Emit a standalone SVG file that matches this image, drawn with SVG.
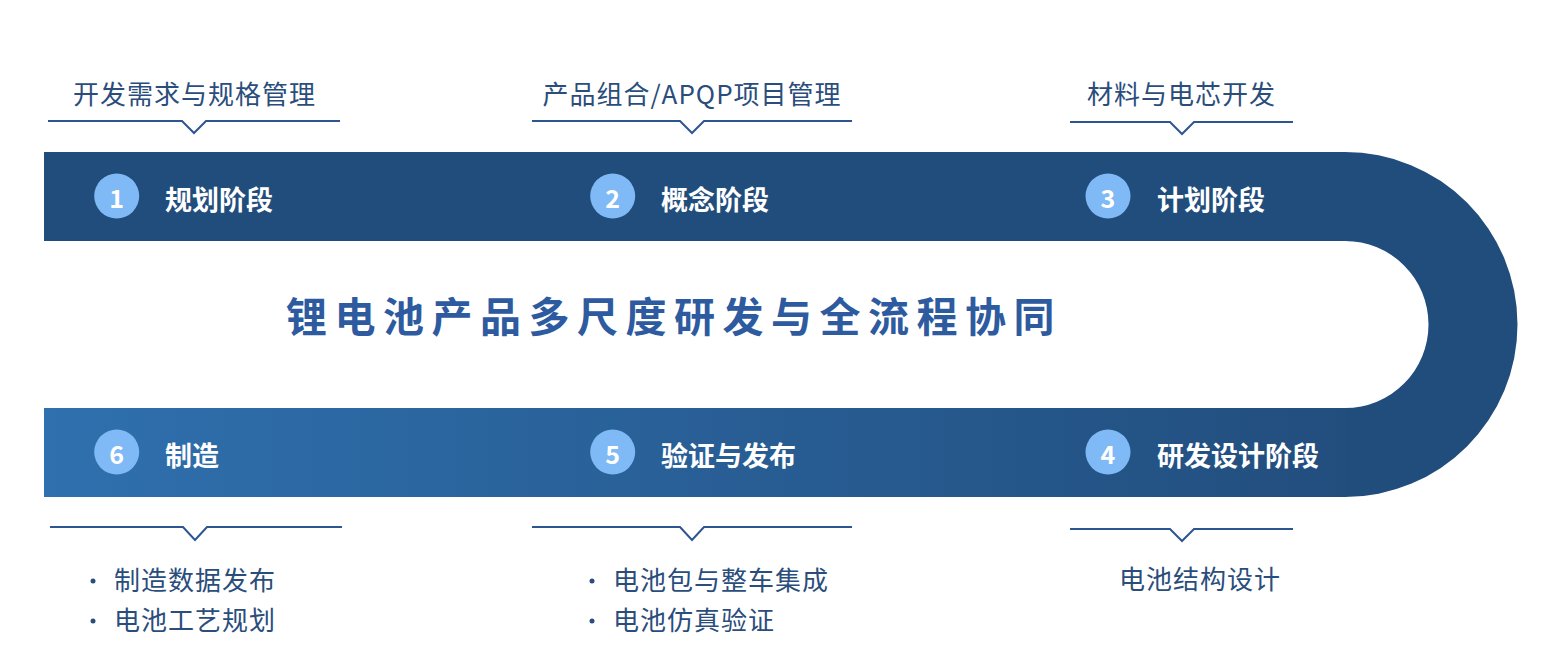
<svg xmlns="http://www.w3.org/2000/svg" width="1560" height="656" viewBox="0 0 1560 656">
<style>
.lbl{font-family:"Noto Sans CJK SC","Noto Sans",sans-serif;font-size:26px;letter-spacing:1px;fill:#2a4d7c}
.stage{font-family:"Noto Sans CJK SC","Noto Sans",sans-serif;font-size:27px;font-weight:bold;fill:#ffffff}
.num{font-family:"Noto Sans CJK SC","Noto Sans",sans-serif;font-size:25px;font-weight:bold;fill:#ffffff}
.dot{fill:#80baf6}
.rule{fill:none;stroke:#2d5590;stroke-width:2}
.bul{fill:#2a4d7c}
.title{font-family:"Noto Sans CJK SC","Noto Sans",sans-serif;font-size:41px;font-weight:bold;letter-spacing:7.5px;fill:#2e5b9f}
</style>
<defs>
<linearGradient id="gBot" x1="44" y1="0" x2="1345" y2="0" gradientUnits="userSpaceOnUse">
<stop offset="0" stop-color="#2f70ae"/>
<stop offset="1" stop-color="#224e7e"/>
</linearGradient>
</defs>
<rect width="1560" height="656" fill="#ffffff"/>
<g id="track">
<path d="M44,152 H1345 A172.5,172.5 0 0 1 1345,497 H44 V408 H1345 A83.5,83.5 0 0 0 1345,241 H44 Z" fill="#214d7c"/>
<rect x="44" y="408" width="1302" height="89" fill="url(#gBot)"/>
</g>
<text id="title" class="title" x="286" y="332">锂电池产品多尺度研发与全流程协同</text>
<g id="connectors">
<polyline class="rule" points="48,121 182,121 194,133 206,121 340,121"/>
<polyline class="rule" points="532,121 680,121 692,133 704,121 852,121"/>
<polyline class="rule" points="1070,122 1170,122 1182,134 1194,122 1293,122"/>
<polyline class="rule" points="50,527 183,527 195,540 207,527 342,527"/>
<polyline class="rule" points="532,527 680,527 692,540 704,527 852,527"/>
<polyline class="rule" points="1070,529 1170,529 1182,541 1194,529 1293,529"/>
</g>
<g id="note1"><text class="lbl" x="194.5" y="104" text-anchor="middle">开发需求与规格管理</text></g>
<g id="note2"><text class="lbl" x="692" y="104" text-anchor="middle">产品组合/APQP项目管理</text></g>
<g id="note3"><text class="lbl" x="1181.5" y="104" text-anchor="middle">材料与电芯开发</text></g>
<g id="stage1"><circle class="dot" cx="116.7" cy="196" r="22.5"/><text class="num" x="116.7" y="197" text-anchor="middle" dominant-baseline="central">1</text><text class="stage" x="165" y="210">规划阶段</text></g>
<g id="stage2"><circle class="dot" cx="612.7" cy="196" r="22.5"/><text class="num" x="612.7" y="197" text-anchor="middle" dominant-baseline="central">2</text><text class="stage" x="661" y="210">概念阶段</text></g>
<g id="stage3"><circle class="dot" cx="1108" cy="196" r="22.5"/><text class="num" x="1108" y="197" text-anchor="middle" dominant-baseline="central">3</text><text class="stage" x="1157" y="210">计划阶段</text></g>
<g id="stage4"><circle class="dot" cx="1108" cy="452" r="22.5"/><text class="num" x="1108" y="453" text-anchor="middle" dominant-baseline="central">4</text><text class="stage" x="1157" y="466">研发设计阶段</text></g>
<g id="stage5"><circle class="dot" cx="612.7" cy="452" r="22.5"/><text class="num" x="612.7" y="453" text-anchor="middle" dominant-baseline="central">5</text><text class="stage" x="661" y="466">验证与发布</text></g>
<g id="stage6"><circle class="dot" cx="116.7" cy="452" r="22.5"/><text class="num" x="116.7" y="453" text-anchor="middle" dominant-baseline="central">6</text><text class="stage" x="165" y="466">制造</text></g>
<g id="note6">
<circle class="bul" cx="93" cy="581" r="2.5"/><text class="lbl" x="114" y="590">制造数据发布</text>
<circle class="bul" cx="93" cy="621" r="2.5"/><text class="lbl" x="114" y="630">电池工艺规划</text>
</g>
<g id="note5">
<circle class="bul" cx="592" cy="581" r="2.5"/><text class="lbl" x="613" y="590">电池包与整车集成</text>
<circle class="bul" cx="592" cy="621" r="2.5"/><text class="lbl" x="613" y="630">电池仿真验证</text>
</g>
<g id="note4"><text class="lbl" x="1200" y="589" text-anchor="middle">电池结构设计</text></g>
</svg>
